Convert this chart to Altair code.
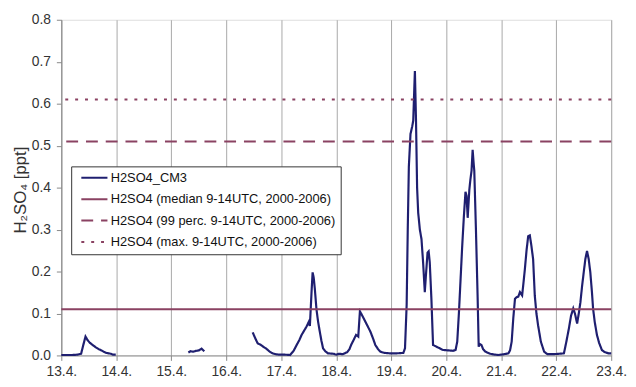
import altair as alt
import pandas as pd

# x positions are days after 13.4.
day_labels = ["13.4.", "14.4.", "15.4.", "16.4.", "17.4.", "18.4.", "19.4.",
              "20.4.", "21.4.", "22.4.", "23.4."]

series_names = ["H2SO4_CM3",
                "H2SO4 (median 9-14UTC, 2000-2006)",
                "H2SO4 (99 perc. 9-14UTC, 2000-2006)",
                "H2SO4 (max. 9-14UTC, 2000-2006)"]
ref_values = [0.11, 0.51, 0.61]

seg1_day = [0.00, 0.10, 0.20, 0.30, 0.36, 0.40, 0.44, 0.48, 0.52, 0.56, 0.62,
            0.68, 0.73, 0.78, 0.82, 0.86, 0.90, 0.94, 0.99]
seg1_val = [0.001, 0.001, 0.001, 0.002, 0.004, 0.025, 0.045, 0.036, 0.030, 0.026,
            0.020, 0.015, 0.012, 0.008, 0.006, 0.005, 0.004, 0.002, 0.002]

seg2_day = [2.31, 2.35, 2.40, 2.45, 2.50, 2.55, 2.60]
seg2_val = [0.007, 0.010, 0.009, 0.011, 0.012, 0.016, 0.010]

seg3_day = [3.48, 3.53, 3.57, 3.63, 3.68, 3.72, 3.78, 3.84, 3.90, 3.95, 4.05, 4.16,
            4.22, 4.28, 4.33, 4.37, 4.42, 4.46, 4.50, 4.52, 4.55, 4.57, 4.59, 4.61,
            4.64, 4.67, 4.70, 4.73, 4.76, 4.80, 4.85, 4.95, 5.00, 5.05, 5.12, 5.20,
            5.24, 5.27, 5.32, 5.36, 5.40, 5.43, 5.46, 5.50, 5.55, 5.62, 5.67, 5.71,
            5.76, 5.80, 5.88, 5.98, 6.10, 6.22, 6.25, 6.28, 6.30, 6.32, 6.35, 6.38,
            6.40, 6.42, 6.43, 6.45, 6.47, 6.49, 6.52, 6.55, 6.58, 6.61, 6.63, 6.66,
            6.68, 6.70, 6.73, 6.76, 6.82, 6.88, 6.94, 7.05, 7.12, 7.17, 7.20, 7.23,
            7.26, 7.29, 7.32, 7.35, 7.37, 7.39, 7.42, 7.44, 7.46, 7.48, 7.50, 7.51,
            7.54, 7.57, 7.59, 7.61, 7.64, 7.67, 7.71, 7.80, 7.88, 7.95, 8.05, 8.13,
            8.16, 8.19, 8.22, 8.25, 8.28, 8.31, 8.34, 8.38, 8.41, 8.43, 8.46, 8.49,
            8.52, 8.55, 8.58, 8.61, 8.64, 8.67, 8.72, 8.78, 8.84, 8.95, 9.05, 9.14,
            9.18, 9.23, 9.27, 9.31, 9.34, 9.38, 9.41, 9.44, 9.47, 9.50, 9.53, 9.56,
            9.59, 9.62, 9.65, 9.67, 9.70, 9.74, 9.78, 9.83, 9.88, 9.95, 10.00]
seg3_val = [0.055, 0.040, 0.029, 0.025, 0.020, 0.017, 0.010, 0.005, 0.003, 0.002, 0.002, 0.001,
            0.010, 0.025, 0.037, 0.049, 0.060, 0.069, 0.080, 0.070, 0.150, 0.198, 0.185, 0.159,
            0.110, 0.080, 0.057, 0.035, 0.017, 0.010, 0.005, 0.004, 0.002, 0.004, 0.003, 0.008,
            0.015, 0.025, 0.038, 0.049, 0.045, 0.105, 0.098, 0.088, 0.075, 0.057, 0.040, 0.025,
            0.015, 0.009, 0.006, 0.005, 0.005, 0.006, 0.017, 0.120, 0.300, 0.450, 0.528, 0.545,
            0.560, 0.640, 0.678, 0.560, 0.400, 0.340, 0.300, 0.277, 0.220, 0.151, 0.190, 0.245,
            0.248, 0.222, 0.135, 0.025, 0.021, 0.017, 0.013, 0.012, 0.011, 0.013, 0.033, 0.100,
            0.180, 0.260, 0.330, 0.390, 0.380, 0.328, 0.395, 0.420, 0.440, 0.490, 0.455, 0.440,
            0.300, 0.143, 0.021, 0.027, 0.025, 0.015, 0.009, 0.004, 0.002, 0.001, 0.003, 0.005,
            0.012, 0.033, 0.090, 0.135, 0.139, 0.140, 0.151, 0.143, 0.180, 0.206, 0.250, 0.284,
            0.286, 0.260, 0.229, 0.143, 0.100, 0.072, 0.033, 0.009, 0.003, 0.003, 0.004, 0.005,
            0.030, 0.064, 0.095, 0.112, 0.100, 0.076, 0.100, 0.127, 0.165, 0.198, 0.230, 0.249,
            0.230, 0.198, 0.150, 0.112, 0.080, 0.049, 0.030, 0.013, 0.008, 0.005, 0.005]

rows = []
for seg_id, (days, vals) in enumerate([(seg1_day, seg1_val), (seg2_day, seg2_val),
                                        (seg3_day, seg3_val)]):
    for d, v in zip(days, vals):
        rows.append({"day": d, "val": v, "seg": seg_id, "series": series_names[0]})
line_df = pd.DataFrame(rows)
ref_df = pd.DataFrame({"val": ref_values, "series": series_names[1:]})

FONT = "Liberation Sans"
NAVY = "#1f1f70"
MAROON = "#8a4262"

color_scale = alt.Scale(domain=series_names, range=[NAVY, MAROON, MAROON, MAROON])
dash_scale = alt.Scale(domain=series_names, range=[[1, 0], [1, 0], [12, 8], [3, 7]])

legend = alt.Legend(title=None, orient="none", legendX=10, legendY=148.5,
                    strokeColor="#333", fillColor="white", padding=5,
                    symbolType="stroke", symbolSize=700, symbolStrokeWidth=2,
                    symbolOffset=4, labelOffset=2, clipHeight=13, rowPadding=7.7,
                    labelFont=FONT, labelFontSize=13, labelColor="#111",
                    labelLimit=400, cornerRadius=0)

labels_expr = "[" + ",".join("'%s'" % s for s in day_labels) + "][datum.value]"

x_enc = alt.X("day:Q", scale=alt.Scale(domain=[0, 10], nice=False, zero=False),
              axis=alt.Axis(values=list(range(len(day_labels))), labelExpr=labels_expr,
                            title=None, grid=True, gridColor="#a8a8a8", labelFlush=False,
                            labelPadding=4, labelFontSize=14, labelFont=FONT,
                            labelColor="#333", tickSize=5, tickColor="#888",
                            domainColor="#888"))
y_enc = alt.Y("val:Q", scale=alt.Scale(domain=[0, 0.8], nice=False),
              axis=alt.Axis(values=[0, 0.1, 0.2, 0.3, 0.4, 0.5, 0.6, 0.7, 0.8],
                            format=".1f", grid=False, title="H₂SO₄ [ppt]",
                            titleX=-41, titleY=172, titleAngle=-90,
                            titleAlign="center", titleBaseline="middle",
                            titleFont=FONT, titleFontSize=17, titleFontWeight="normal",
                            titleColor="#333",
                            labelPadding=6, labelFontSize=14, labelFont=FONT,
                            labelColor="#333", tickSize=5, tickColor="#888",
                            domainColor="#888"))

rules = alt.Chart(ref_df).mark_rule(strokeWidth=2).encode(
    y=alt.Y("val:Q", scale=alt.Scale(domain=[0, 0.8], nice=False)),
    color=alt.Color("series:N", scale=color_scale, legend=legend),
    strokeDash=alt.StrokeDash("series:N", scale=dash_scale, legend=legend),
)

line = alt.Chart(line_df).mark_line(strokeWidth=2.2).encode(
    x=x_enc,
    y=y_enc,
    detail="seg:N",
    color=alt.Color("series:N", scale=color_scale, legend=legend),
    strokeDash=alt.StrokeDash("series:N", scale=dash_scale, legend=legend),
)

chart = alt.layer(line, rules).properties(
    width=557, height=340,
    autosize=alt.AutoSizeParams(type="none"),
    padding={"left": 54, "top": 9.5, "right": 17, "bottom": 26},
).configure_view(stroke="#888", strokeWidth=1).configure(background="white")

chart.save("out.html", embed_options={"renderer": "svg", "actions": False})
